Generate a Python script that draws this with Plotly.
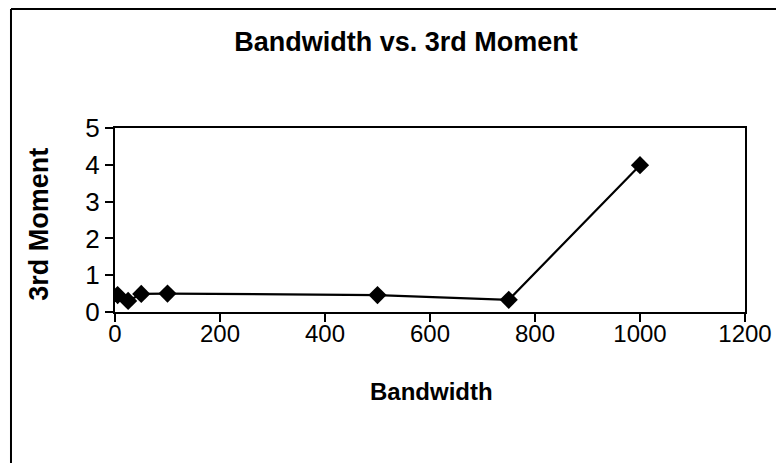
import plotly.graph_objects as go

bandwidth = [5, 25, 50, 100, 500, 750, 1000]
third_moment = [0.46, 0.30, 0.49, 0.50, 0.46, 0.33, 3.99]

x_ticks = [0, 200, 400, 600, 800, 1000, 1200]
y_ticks = [0, 1, 2, 3, 4, 5]

# page body has an 8px margin, so the figure is drawn 8px right/down
OFF = 8
W, H = 784 - OFF, 463 - OFF
L, T = 115 - OFF, 128 - OFF
R = W - (751 - OFF)
B = H - (312 - OFF)
pw, ph = W - L - R, H - T - B

def px_x(p):
    return (p - OFF - L) / pw

def px_y(p):
    return 1 - (p - OFF - T) / ph

font = "Liberation Sans, Arial, sans-serif"

fig = go.Figure()
fig.add_trace(go.Scatter(
    x=bandwidth, y=third_moment, mode="lines+markers",
    line=dict(color="black", width=2.2),
    marker=dict(symbol="diamond", size=14, color="black"),
    showlegend=False,
))

fig.update_layout(
    width=W, height=H,
    margin=dict(l=L, r=R, t=T, b=B),
    paper_bgcolor="white", plot_bgcolor="white",
    font=dict(family=font, color="black"),
    title=dict(text="<b>Bandwidth vs. 3rd Moment</b>", x=(406 - OFF) / W, xanchor="center",
               y=1 - (42 - OFF) / H, yanchor="middle", font=dict(size=27, family=font)),
    xaxis=dict(range=[0, 1200], tickvals=x_ticks, ticktext=[str(v) for v in x_ticks],
               showgrid=False, zeroline=False, showline=True, linecolor="black", linewidth=2,
               mirror=True, ticks="outside", ticklen=8, tickwidth=1.5, tickcolor="black",
               tickfont=dict(size=24), ticklabelstandoff=-9),
    yaxis=dict(range=[0, 5], tickvals=y_ticks, ticktext=[str(v) for v in y_ticks],
               showgrid=False, zeroline=False, showline=True, linecolor="black", linewidth=2,
               mirror=True, ticks="outside", ticklen=8, tickwidth=1.5, tickcolor="black",
               tickfont=dict(size=26)),
    annotations=[
        dict(text="<b>Bandwidth</b>", xref="paper", yref="paper",
             x=px_x(435), y=px_y(391), xanchor="center", yanchor="middle",
             showarrow=False, font=dict(size=24, family=font)),
        dict(text="<b>3rd Moment</b>", xref="paper", yref="paper", textangle=-90,
             x=px_x(38), y=px_y(224), xanchor="center", yanchor="middle",
             showarrow=False, font=dict(size=27, family=font)),
    ],
    shapes=[
        dict(type="line", xref="paper", yref="paper", x0=px_x(10), x1=px_x(10),
             y0=px_y(9), y1=px_y(480), line=dict(color="black", width=2)),
        dict(type="line", xref="paper", yref="paper", x0=px_x(10), x1=px_x(800),
             y0=px_y(9), y1=px_y(9), line=dict(color="black", width=2)),
    ],
)

fig.write_html("out.html")
